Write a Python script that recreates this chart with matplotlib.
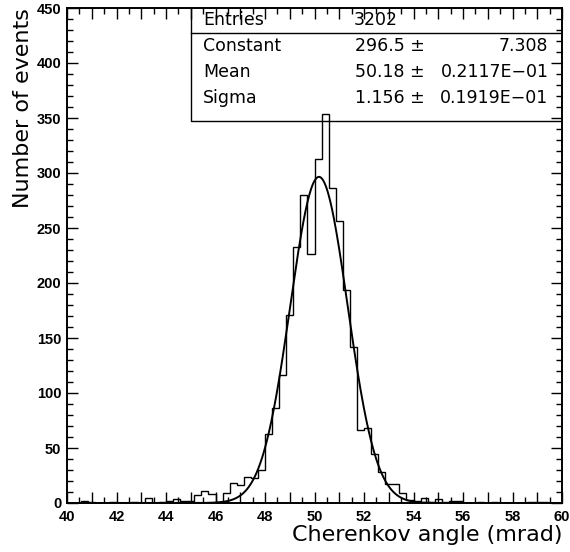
import numpy as np
import matplotlib.pyplot as plt
from matplotlib.ticker import MultipleLocator, FuncFormatter

# 70 bins between 40 and 60 mrad
edges = np.linspace(40, 60, 71)
counts = [0, 0, 2, 1, 0, 0, 1, 0, 0, 1,
          0, 5, 0, 1, 2, 4, 2, 2, 7, 11,
          8, 1, 9, 18, 16, 24, 23, 30, 63, 86,
          116, 171, 233, 280, 226, 313, 354, 286, 256, 194,
          142, 66, 68, 45, 28, 17, 17, 9, 3, 2,
          5, 1, 4, 1, 2, 2, 0, 0, 1, 0,
          1, 0, 0, 0, 0, 1, 1, 1, 0, 0]

# fit results
entries = 3202
constant, constant_err = 296.5, 7.308
mean, mean_err = 50.18, 0.2117e-01
sigma, sigma_err = 1.156, 0.1919e-01

xlabel = "Cherenkov angle (mrad)"
ylabel = "Number of events"


def gauss(x, a, mu, s):
    return a * np.exp(-0.5 * ((x - mu) / s) ** 2)


fig = plt.figure(figsize=(5.7, 5.52), dpi=100)
ax = fig.add_axes([67 / 570, 1 - 503 / 552, 495 / 570, 495 / 552])

ax.stairs(counts, edges, color='black', lw=1.0)
xs = np.linspace(40, 60, 800)
ax.plot(xs, gauss(xs, constant, mean, sigma), color='black', lw=1.4)

ax.set_xlim(40, 60)
ax.set_ylim(0, 450)

ax.xaxis.set_major_locator(MultipleLocator(1))
ax.xaxis.set_minor_locator(MultipleLocator(0.5))
ax.xaxis.set_major_formatter(FuncFormatter(lambda v, p: f'{v:.0f}' if round(v) % 2 == 0 else ''))
ax.yaxis.set_major_locator(MultipleLocator(50))
ax.yaxis.set_minor_locator(MultipleLocator(10))
ax.tick_params(which='both', direction='in', top=True, right=True, width=1.0)
ax.tick_params(which='major', length=8, labelsize=10.5)
ax.tick_params(axis='x', which='major', pad=5)
ax.tick_params(axis='y', which='major', pad=4)
ax.tick_params(which='minor', length=4)
for lab in ax.get_xticklabels() + ax.get_yticklabels():
    lab.set_fontweight('bold')
    lab.set_family('Liberation Sans')
for sp in ax.spines.values():
    sp.set_linewidth(1.4)

ax.set_xlabel(xlabel, fontsize=16, family='DejaVu Sans', loc='right', labelpad=1)
ax.set_ylabel(ylabel, fontsize=16, family='DejaVu Sans', loc='top', labelpad=3)

# statistics box
box_left, box_bottom, sep = 45.0, 347, 427
ax.plot([box_left, box_left, 60], [450, box_bottom, box_bottom], color='black', lw=1.0)
ax.plot([box_left, 60], [sep, sep], color='black', lw=1.0)
tkw = dict(fontsize=12.5, family='DejaVu Sans', va='center')
rows = [("Constant", f"{constant}", f"{constant_err}", 415.5),
        ("Mean", f"{mean}", "0.2117E\u221201", 392),
        ("Sigma", f"{sigma}", "0.1919E\u221201", 368)]
ax.text(45.5, 439, "Entries", **tkw)
ax.text(51.6, 439, f"{entries}", **tkw)
for name, val, err, y in rows:
    ax.text(45.5, y, name, **tkw)
    ax.text(54.45, y, f"{val} \u00b1", ha='right', **tkw)
    ax.text(59.45, y, err, ha='right', **tkw)

fig.savefig('out.png', dpi=100)
